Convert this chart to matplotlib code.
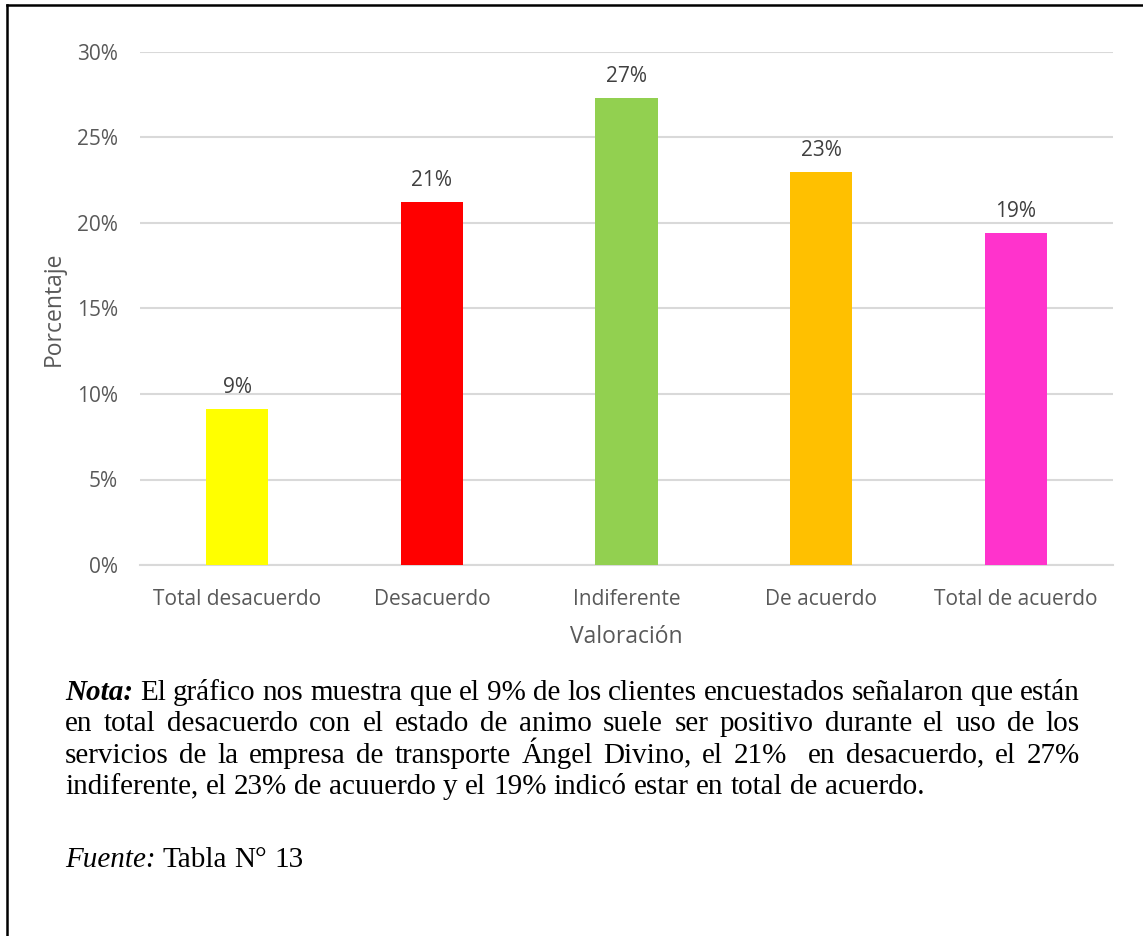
import matplotlib
matplotlib.use('Agg')
import matplotlib.pyplot as plt
from matplotlib.lines import Line2D
from matplotlib.ticker import PercentFormatter, MultipleLocator

# survey answers
categorias = ['Total desacuerdo', 'Desacuerdo', 'Indiferente', 'De acuerdo', 'Total de acuerdo']
porcentajes = [0.091, 0.212, 0.273, 0.230, 0.194]
colores = ['#FFFF00', '#FF0000', '#92D050', '#FFC000', '#FF33CC']

nota_lineas = [
    [('Nota:', 'bi'), ('El gráfico nos muestra que el 9% de los clientes encuestados señalaron que están', 'r')],
    [('en total desacuerdo con el estado de animo suele ser positivo durante el uso de los', 'r')],
    [('servicios de la empresa de transporte Ángel Divino, el 21%  en desacuerdo, el 27%', 'r')],
    [('indiferente, el 23% de acuuerdo y el 19% indicó estar en total de acuerdo.', 'r')],
]
fuente = [('Fuente:', 'i'), ('Tabla N° 13', 'r')]

W, H = 1143, 936
gris = '#595959'
plt.rcParams['font.family'] = ['Open Sans', 'DejaVu Sans']

fig = plt.figure(figsize=(W / 100, H / 100), dpi=100)
ax = fig.add_axes([140 / W, 1 - 565 / H, (1113 - 140) / W, (565 - 52) / H])

x = range(len(categorias))
bars = ax.bar(x, porcentajes, width=0.32, color=colores, zorder=3)
for b, v in zip(bars, porcentajes):
    ax.annotate('{:.0%}'.format(v), (b.get_x() + b.get_width() / 2, v),
                xytext=(0, 8), textcoords='offset points', ha='center', va='bottom',
                fontsize=15, color='#404040')

ax.set_xlim(-0.5, 4.5)
ax.set_ylim(0, 0.30)
ax.yaxis.set_major_locator(MultipleLocator(0.05))
ax.yaxis.set_major_formatter(PercentFormatter(1.0, decimals=0))
ax.set_xticks(list(x))
ax.set_xticklabels(categorias)
ax.tick_params(length=0, labelsize=15, labelcolor=gris)
ax.tick_params(axis='y', pad=16)
ax.tick_params(axis='x', pad=17)
ax.grid(axis='y', color='#d9d9d9', linewidth=1.5, zorder=0)
for s in ['top', 'right', 'left']:
    ax.spines[s].set_visible(False)
ax.spines['bottom'].set_color('#d9d9d9')
ax.spines['bottom'].set_linewidth(1.5)
ax.set_ylabel('Porcentaje', fontsize=16.5, color=gris, labelpad=8)
ax.set_xlabel('Valoración', fontsize=16.5, color=gris, labelpad=11)

# note below the chart, justified like a word processor paragraph
renderer = fig.canvas.get_renderer()
estilos = {
    'r': dict(style='normal', weight='normal'),
    'i': dict(style='italic', weight='normal'),
    'bi': dict(style='italic', weight='bold'),
}
serif = dict(family='Liberation Serif', fontsize=21, color='black')


def ancho(s, est):
    t = fig.text(0, 0, s, **serif, **estilos[est])
    w = t.get_window_extent(renderer).width
    t.remove()
    return w


esp = ancho('x x', 'r') - ancho('xx', 'r')


def escribir(partes, y, x0=65, x1=None):
    palabras = []
    for texto, est in partes:
        for p in texto.split(' '):
            palabras.append((p, est))
    anchos = [ancho(p, e) if p else 0 for p, e in palabras]
    gap = esp
    if x1 is not None:
        gap = (x1 - x0 - sum(anchos)) / (len(palabras) - 1)
    xp = x0
    for (p, e), w in zip(palabras, anchos):
        if p:
            fig.text(xp / W, 1 - y / H, p, va='baseline', ha='left', **serif, **estilos[e])
        xp += w + gap


y0 = 700
for i, linea in enumerate(nota_lineas):
    ultima = i == len(nota_lineas) - 1
    escribir(linea, y0 + i * 31.3, x1=None if ultima else 1080)
escribir(fuente, 867)

# frame around the figure
fig.add_artist(Line2D([7 / W, 1], [1 - 5 / H, 1 - 5 / H], color='black', lw=1.8, transform=fig.transFigure))
fig.add_artist(Line2D([7 / W, 7 / W], [0, 1 - 5 / H], color='black', lw=1.8, transform=fig.transFigure))

fig.savefig('out.png', dpi=100)
